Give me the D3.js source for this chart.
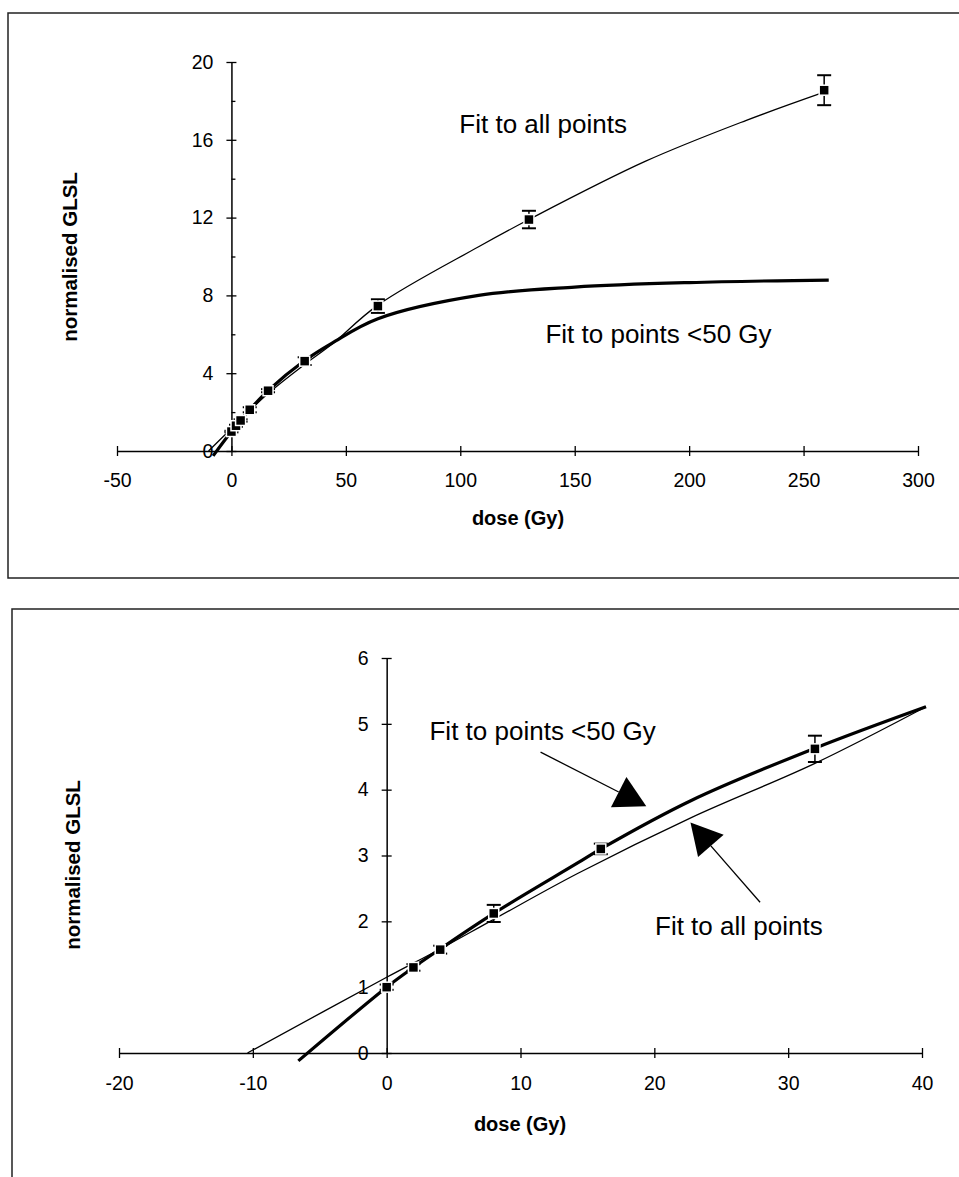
<!DOCTYPE html>
<html>
<head>
<meta charset="utf-8">
<script src="https://cdn.jsdelivr.net/npm/d3@7"></script>
<style>
  body { margin: 0; background: #fff; }
  svg text { font-family: "Liberation Sans", Arial, sans-serif; fill: #000; }
</style>
</head>
<body>
<div id="chart"></div>
<script>
// measured GLSL values (normalised) with error bars
var doses = [0, 2, 4, 8, 16, 32, 64, 130, 259];
var glsl = [1.0, 1.3, 1.57, 2.12, 3.1, 4.62, 7.45, 11.9, 18.55];
var glslErr = [0.04, 0.05, 0.06, 0.13, 0.08, 0.2, 0.35, 0.45, 0.77];

// fitted curves
var topFitAllDose = [-10, 0, 16, 32, 44, 64, 108, 130, 181, 225, 259];
var topFitAllVal = [0, 1.15, 2.95, 4.45, 5.5, 7.5, 10.5, 11.9, 14.9, 17.0, 18.45];
var topFitLowDose = [-8, 0, 8, 16, 32, 44, 64, 108, 150, 200, 261];
var topFitLowVal = [-0.25, 1.0, 2.12, 3.1, 4.65, 5.55, 6.8, 8.0, 8.43, 8.66, 8.79];

var botFitAllDose = [-10.4, 0, 4, 8, 14.3, 22.8, 32, 40.3];
var botFitAllVal = [0, 1.15, 1.58, 2.03, 2.73, 3.58, 4.4, 5.26];
var botFitLowDose = [-6.6, 0, 2, 4, 8, 14.3, 16, 22.8, 32, 40.3];
var botFitLowVal = [-0.12, 1.0, 1.3, 1.58, 2.12, 2.89, 3.1, 3.84, 4.63, 5.26];

// tick labels
var topXTicks = [-50, 0, 50, 100, 150, 200, 250, 300];
var topYTicks = [0, 4, 8, 12, 16, 20];
var topYMinor = [2, 6, 10, 14, 18];
var botXTicks = [-20, -10, 0, 10, 20, 30, 40];
var botYTicks = [0, 1, 2, 3, 4, 5, 6];

var svg = d3.select("#chart").append("svg")
    .attr("width", 959)
    .attr("height", 1177);

function zip(xs, ys) {
  return xs.map(function (d, i) { return [d, ys[i]]; });
}

// plain hyphen minus like the original, no decimals
var fmt = function (d) { return String(d); };

function drawPanel(p) {
  var g = svg.append("g");

  // frame
  g.append("rect")
      .attr("x", p.frame[0]).attr("y", p.frame[1])
      .attr("width", p.frame[2]).attr("height", p.frame[3])
      .attr("fill", "none").attr("stroke", "#222").attr("stroke-width", 1.5);

  var x = d3.scaleLinear().domain(p.xDomain).range(p.xRange);
  var y = d3.scaleLinear().domain(p.yDomain).range(p.yRange);

  // x axis at y = 0
  var xAxis = g.append("g")
      .attr("transform", "translate(0," + y(0) + ")")
      .call(d3.axisBottom(x).tickValues(p.xTicks).tickFormat(fmt)
          .tickSize(5).tickSizeOuter(0).tickPadding(p.xPad));
  xAxis.selectAll(".tick line").attr("y1", -5);

  // y axis at x = 0
  var yAxis = g.append("g")
      .attr("transform", "translate(" + x(0) + ",0)")
      .call(d3.axisLeft(y).tickValues(p.yTicks).tickFormat(fmt)
          .tickSize(5).tickSizeOuter(0).tickPadding(13));
  yAxis.selectAll(".tick line").attr("x1", 5);

  if (p.yMinor) {
    g.append("g")
        .attr("transform", "translate(" + x(0) + ",0)")
        .call(d3.axisRight(y).tickValues(p.yMinor).tickSize(4).tickFormat(""))
        .select(".domain").remove();
  }

  g.selectAll(".domain").attr("stroke", "#000").attr("stroke-width", 1.5);
  g.selectAll(".tick line").attr("stroke", "#000").attr("stroke-width", 1.3);
  g.selectAll(".tick text").style("font-size", "19.5px").attr("fill", "#000");

  // axis titles
  g.append("text")
      .attr("x", p.xTitle[0]).attr("y", p.xTitle[1])
      .style("font-size", "20px").style("font-weight", "bold")
      .style("text-anchor", "middle")
      .text("dose (Gy)");

  g.append("text")
      .attr("transform", "translate(" + p.yTitle[0] + "," + p.yTitle[1] + ") rotate(-90)")
      .style("font-size", "20.5px").style("font-weight", "bold")
      .style("text-anchor", "middle")
      .text("normalised GLSL");

  var line = d3.line()
      .x(function (d) { return x(d[0]); })
      .y(function (d) { return y(d[1]); })
      .curve(d3.curveCatmullRom.alpha(0.5));

  g.append("path")
      .datum(p.fitAll)
      .attr("d", line)
      .attr("fill", "none").attr("stroke", "#000").attr("stroke-width", 1.3);

  g.append("path")
      .datum(p.fitLow)
      .attr("d", line)
      .attr("fill", "none").attr("stroke", "#000").attr("stroke-width", 3.2);

  var pts = doses.map(function (d, i) {
    return { dose: d, val: glsl[i], err: glslErr[i] };
  }).filter(function (d) { return d.dose <= p.xDomain[1]; });

  // error bars
  var eb = g.selectAll(".eb").data(pts).enter().append("g").attr("class", "eb");
  eb.append("line")
      .attr("x1", function (d) { return x(d.dose); })
      .attr("x2", function (d) { return x(d.dose); })
      .attr("y1", function (d) { return y(d.val - d.err); })
      .attr("y2", function (d) { return y(d.val + d.err); })
      .attr("stroke", "#000").attr("stroke-width", 1.5);
  [-1, 1].forEach(function (s) {
    eb.append("line")
        .attr("x1", function (d) { return x(d.dose) - 7; })
        .attr("x2", function (d) { return x(d.dose) + 7; })
        .attr("y1", function (d) { return y(d.val + s * d.err); })
        .attr("y2", function (d) { return y(d.val + s * d.err); })
        .attr("stroke", "#000").attr("stroke-width", 2);
  });

  // square markers
  g.selectAll(".pt").data(pts).enter().append("rect")
      .attr("class", "pt")
      .attr("x", function (d) { return x(d.dose) - 5; })
      .attr("y", function (d) { return y(d.val) - 5; })
      .attr("width", 10).attr("height", 10)
      .attr("fill", "#000").attr("stroke", "#fff").attr("stroke-width", 1.5);

  // annotations
  p.notes.forEach(function (n) {
    g.append("text")
        .attr("x", x(n.at[0])).attr("y", y(n.at[1]))
        .style("font-size", "26px")
        .text(n.text);
  });

  (p.arrows || []).forEach(function (a) {
    var x0 = x(a.from[0]), y0 = y(a.from[1]);
    var x1 = x(a.to[0]), y1 = y(a.to[1]);
    var dx = x1 - x0, dy = y1 - y0, len = Math.sqrt(dx * dx + dy * dy);
    var ux = dx / len, uy = dy / len;
    var bx = x1 - ux * 31, by = y1 - uy * 31;
    g.append("line")
        .attr("x1", x0).attr("y1", y0).attr("x2", bx).attr("y2", by)
        .attr("stroke", "#000").attr("stroke-width", 1.3);
    g.append("path")
        .attr("d", "M" + x1 + "," + y1 +
                   "L" + (bx - uy * 17) + "," + (by + ux * 17) +
                   "L" + (bx + uy * 17) + "," + (by - ux * 17) + "Z")
        .attr("fill", "#000");
  });
}

drawPanel({
  frame: [8, 13, 960, 565],
  xDomain: [-50, 300], xRange: [117, 918],
  yDomain: [0, 20], yRange: [451, 62],
  xTicks: topXTicks, yTicks: topYTicks, yMinor: topYMinor,
  xPad: 17,
  xTitle: [518, 525], yTitle: [77, 257],
  fitAll: zip(topFitAllDose, topFitAllVal),
  fitLow: zip(topFitLowDose, topFitLowVal),
  notes: [
    { text: "Fit to all points", at: [99.6, 16.35] },
    { text: "Fit to points <50 Gy", at: [137.2, 5.55] }
  ]
});

drawPanel({
  frame: [12, 609, 960, 600],
  xDomain: [-20, 40], xRange: [119, 922],
  yDomain: [0, 6], yRange: [1053, 658],
  xTicks: botXTicks, yTicks: botYTicks, yMinor: null,
  xPad: 18,
  xTitle: [520, 1131], yTitle: [80, 865],
  fitAll: zip(botFitAllDose, botFitAllVal),
  fitLow: zip(botFitLowDose, botFitLowVal),
  notes: [
    { text: "Fit to points <50 Gy", at: [3.2, 4.76] },
    { text: "Fit to all points", at: [20.05, 1.79] }
  ],
  arrows: [
    { from: [11.5, 4.57], to: [19.4, 3.75] },
    { from: [27.9, 2.29], to: [22.7, 3.5] }
  ]
});
</script>
</body>
</html>
